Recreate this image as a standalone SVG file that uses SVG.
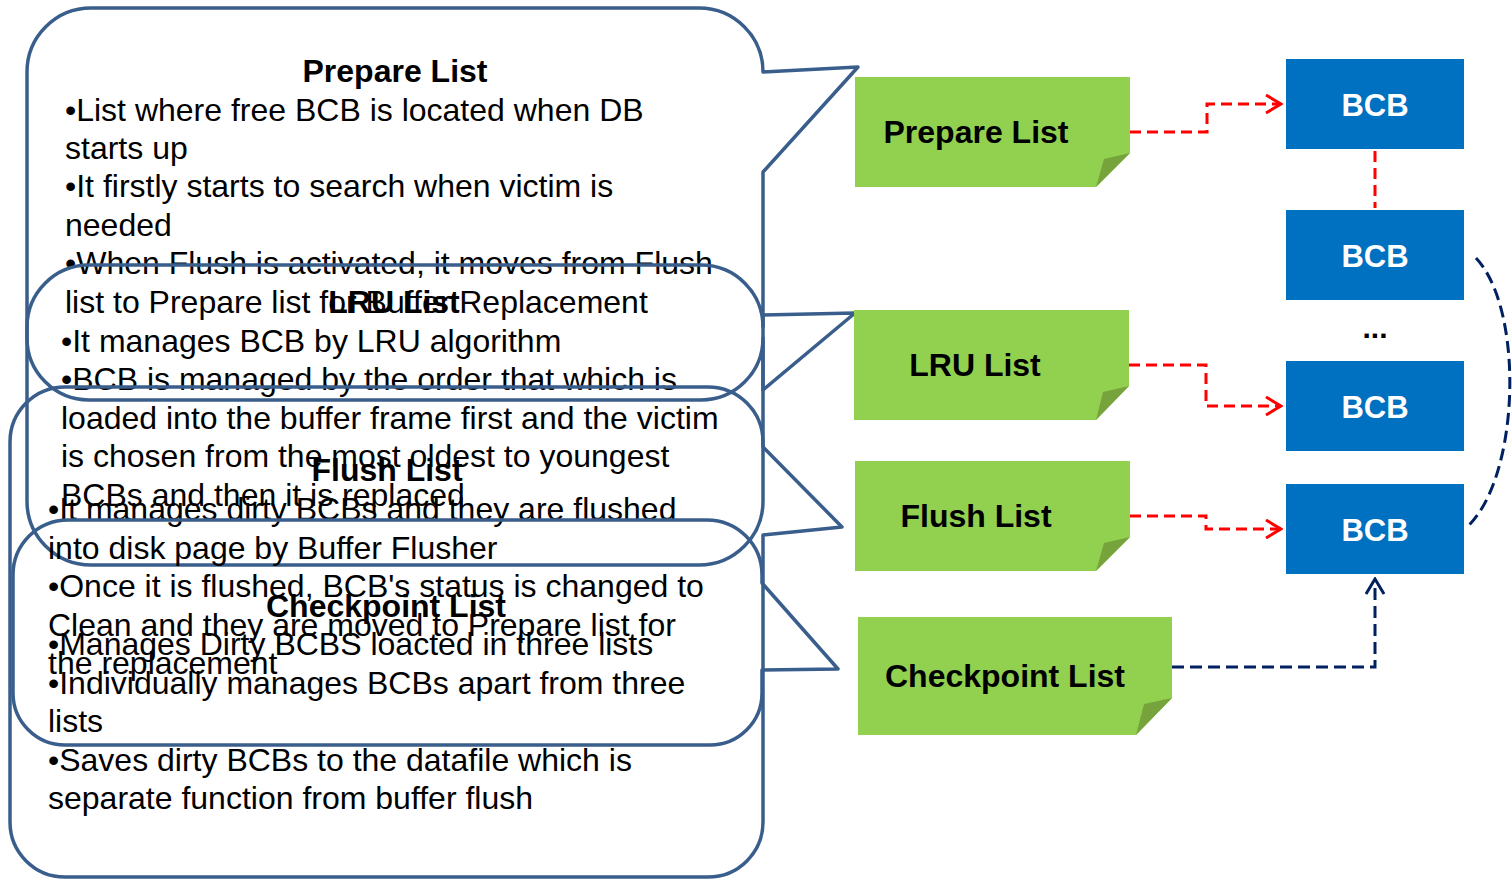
<svg xmlns="http://www.w3.org/2000/svg" width="1512" height="880" viewBox="0 0 1512 880">
<style>
.co{fill:none;stroke:#3A5E8C;stroke-width:3.5;stroke-linejoin:round}
.t{font-family:"Liberation Sans",Arial,sans-serif;font-size:32px;fill:#000}
.b{font-weight:bold}
.c{text-anchor:middle}
.note{fill:#92D050}
.fold{fill:#76A33C}
.bcb{fill:#0070C0}
.bt{font-family:"Liberation Sans",Arial,sans-serif;font-size:31px;font-weight:bold;fill:#fff;text-anchor:middle}
.red{fill:none;stroke:#FF0000;stroke-width:3;stroke-dasharray:11 6}
.navy{fill:none;stroke:#002060;stroke-width:3;stroke-dasharray:12 6}
</style>
<defs>
<marker id="ar" viewBox="0 0 20 20" refX="18" refY="10" markerWidth="20" markerHeight="20" markerUnits="userSpaceOnUse" orient="auto">
<path d="M3,1 L18,10 L3,19" fill="none" stroke="#FF0000" stroke-width="3"/>
</marker>
<marker id="an" viewBox="0 0 20 20" refX="18" refY="10" markerWidth="20" markerHeight="20" markerUnits="userSpaceOnUse" orient="auto">
<path d="M3,1 L18,10 L3,19" fill="none" stroke="#002060" stroke-width="3"/>
</marker>
</defs>
<rect width="1512" height="880" fill="#fff"/>

<g id="callout-prepare">
<path class="co" d="M91,8 H699 A64 64 0 0 1 763,72 L858,67 L763,172 V501 A64 64 0 0 1 699,565 H91 A64 64 0 0 1 27,501 V72 A64 64 0 0 1 91,8 Z"/>
<text class="t b c" x="395" y="82">Prepare List</text>
<text class="t" x="65" y="121">•List where free BCB is located when DB</text>
<text class="t" x="65" y="159">starts up</text>
<text class="t" x="65" y="197">•It firstly starts to search when victim is</text>
<text class="t" x="65" y="236">needed</text>
<text class="t" x="65" y="274">•When Flush is activated, it moves from Flush</text>
<text class="t" x="65" y="313">list to Prepare list for Buffer Replacement</text>
</g>

<g id="callout-lru">
<path class="co" d="M89,265 H701 A62 62 0 0 1 763,327 L763,315 L855,313 L763,390 L763,338 A62 62 0 0 1 701,400 H89 A62 62 0 0 1 27,338 V327 A62 62 0 0 1 89,265 Z"/>
<text class="t b c" x="394" y="313">LRU List</text>
<text class="t" x="61" y="352">•It manages BCB by LRU algorithm</text>
<text class="t" x="61" y="390">•BCB is managed by the order that which is</text>
<text class="t" x="61" y="429">loaded into the buffer frame first and the victim</text>
<text class="t" x="61" y="467">is chosen from the most oldest to youngest</text>
<text class="t" x="61" y="506">BCBs and then it is replaced</text>
</g>

<g id="callout-flush">
<path class="co" d="M65,387 H708 A55 55 0 0 1 763,442 L763,447 L842,527 L763,535 V822 A55 55 0 0 1 708,877 H65 A55 55 0 0 1 10,822 V442 A55 55 0 0 1 65,387 Z"/>
<text class="t b c" x="387" y="481">Flush List</text>
<text class="t" x="48" y="520">•It manages dirty BCBs and they are flushed</text>
<text class="t" x="48" y="559">into disk page by Buffer Flusher</text>
<text class="t" x="48" y="597">•Once it is flushed, BCB's status is changed to</text>
<text class="t" x="48" y="636">Clean and they are moved to Prepare list for</text>
<text class="t" x="48" y="674">the replacement</text>
</g>

<g id="callout-checkpoint">
<path class="co" d="M68,520 H707 A55 55 0 0 1 762,575 L762,583 L838,669 L762,670 V693 A52 52 0 0 1 710,745 H65 A52 52 0 0 1 13,693 V575 A55 55 0 0 1 68,520 Z"/>
<text class="t b c" x="386" y="617">Checkpoint List</text>
<text class="t" x="48" y="655">•Manages Dirty BCBS loacted in three lists</text>
<text class="t" x="48" y="694">•Individually manages BCBs apart from three</text>
<text class="t" x="48" y="732">lists</text>
<text class="t" x="48" y="771">•Saves dirty BCBs to the datafile which is</text>
<text class="t" x="48" y="809">separate function from buffer flush</text>
</g>

<g id="note-prepare">
<path class="note" d="M855,77 H1130 V153 L1096,187 H855 Z"/>
<path class="fold" d="M1130,153 L1104,159 L1096,187 Z"/>
<text class="t b c" x="976" y="143">Prepare List</text>
</g>
<g id="note-lru">
<path class="note" d="M854,310 H1129 V386 L1096,420 H854 Z"/>
<path class="fold" d="M1129,386 L1103,392 L1096,420 Z"/>
<text class="t b c" x="975" y="376">LRU List</text>
</g>
<g id="note-flush">
<path class="note" d="M855,461 H1130 V537 L1096,571 H855 Z"/>
<path class="fold" d="M1130,537 L1104,543 L1096,571 Z"/>
<text class="t b c" x="976" y="527">Flush List</text>
</g>
<g id="note-checkpoint">
<path class="note" d="M858,617 H1172 V698 L1136,735 H858 Z"/>
<path class="fold" d="M1172,698 L1144,704 L1136,735 Z"/>
<text class="t b c" x="1005" y="687">Checkpoint List</text>
</g>

<g id="bcb1"><rect class="bcb" x="1286" y="59" width="178" height="90"/><text class="bt" x="1375" y="116">BCB</text></g>
<g id="bcb2"><rect class="bcb" x="1286" y="210" width="178" height="90"/><text class="bt" x="1375" y="267">BCB</text></g>
<g id="ellipsis"><text class="t b c" x="1375" y="338" style="font-size:30px">...</text></g>
<g id="bcb3"><rect class="bcb" x="1286" y="361" width="178" height="90"/><text class="bt" x="1375" y="418">BCB</text></g>
<g id="bcb4"><rect class="bcb" x="1286" y="484" width="178" height="90"/><text class="bt" x="1375" y="541">BCB</text></g>

<g id="connectors">
<path class="red" d="M1130,132 H1207 V104 H1281" marker-end="url(#ar)"/>
<path class="red" d="M1375,151 V208"/>
<path class="red" d="M1129,365 H1206 V406 H1281" marker-end="url(#ar)"/>
<path class="red" d="M1130,516 H1206 V529 H1281" marker-end="url(#ar)"/>
<path class="navy" d="M1172,667 H1375 V579" marker-end="url(#an)"/>
<path class="navy" d="M1476,258 C1525,310 1520,480 1466,528"/>
</g>
</svg>
